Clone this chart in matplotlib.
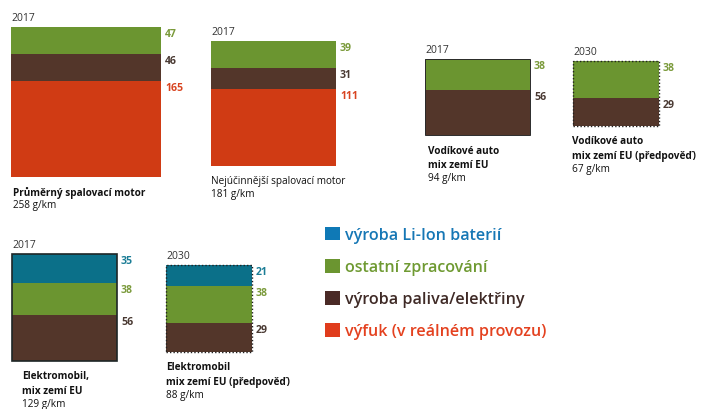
import matplotlib
matplotlib.use("Agg")
import matplotlib.pyplot as plt
from matplotlib.patches import Patch, Rectangle
import matplotlib.transforms as mtransforms

plt.rcParams['font.family'] = ['Open Sans', 'DejaVu Sans']

# ---- data ----
series = ['výroba Li-Ion baterií', 'ostatní zpracování',
          'výroba paliva/elektřiny', 'výfuk (v reálném provozu)']
years = ['2017', '2017', '2017', '2030', '2017', '2030']
battery = [0, 0, 0, 0, 35, 21]
other = [47, 39, 38, 38, 38, 38]
fuel = [46, 31, 56, 29, 56, 29]
exhaust = [165, 111, 0, 0, 0, 0]
totals = ['258 g/km', '181 g/km', '94 g/km', '67 g/km', '129 g/km', '88 g/km']
captions = [
    ['Průměrný spalovací motor'],
    ['Nejúčinnější spalovací motor'],
    ['Vodíkové auto', 'mix zemí EU'],
    ['Vodíkové auto', 'mix zemí EU (předpověď)'],
    ['Elektromobil,', 'mix zemí EU'],
    ['Elektromobil', 'mix zemí EU (předpověď)'],
]
caption_bold = [True, False, True, True, True, True]

# ---- style ----
c_batt = '#0b7089'
c_batt_leg = '#0f79b6'
c_other = '#6b9530'
c_fuel = '#53362a'
c_exh = '#d03b14'
label_colors = {'batt': '#1b7d96', 'other': '#7a9a3a', 'fuel': '#4a3a33', 'exh': '#d84420'}

W, H = 701, 410
fig = plt.figure(figsize=(W / 100, H / 100), dpi=100)

# block boxes in pixels: left, top, width, height
boxes = [(11, 28, 150, 150), (211, 42, 125, 125), (425, 60, 105, 76),
         (573, 62, 86, 65), (12, 255, 105, 107), (166, 266, 86, 87)]
borders = [None, None, 'thin', 'dotted', 'solid', 'dotted']
cap_dx = [2, 0, 3, -1, 10, 0]

def fx(px):
    return px / W

def fy(py):
    return 1 - py / H

for i in range(6):
    x0, y0, w, h = boxes[i]
    ax = fig.add_axes([fx(x0), fy(y0 + h), w / W, h / H])
    ax.set_axis_off()
    segs = [(exhaust[i], c_exh, 'exh'), (fuel[i], c_fuel, 'fuel'),
            (other[i], c_other, 'other'), (battery[i], c_batt, 'batt')]
    tot = sum(s[0] for s in segs)
    bottom = 0
    for val, col, key in segs:
        if val == 0:
            continue
        ax.bar(0.5, val, width=1.0, bottom=bottom, color=col, edgecolor='none')
        top = bottom + val
        tr = mtransforms.offset_copy(ax.transData, fig=fig, x=4, y=-1, units='dots')
        ax.text(1.0, top, str(val), transform=tr, ha='left', va='top',
                fontsize=7.6, fontweight='bold', color=label_colors[key], clip_on=False)
        bottom = top
    ax.set_xlim(0, 1)
    ax.set_ylim(0, tot)
    if borders[i] == 'solid':
        ax.add_patch(Rectangle((0, 0), 1, 1, transform=ax.transAxes, fill=False,
                               edgecolor='#1e2626', lw=1.2, clip_on=False))
    elif borders[i] == 'thin':
        ax.add_patch(Rectangle((0, 0), 1, 1, transform=ax.transAxes, fill=False,
                               edgecolor='#2a2a2a', lw=0.7, clip_on=False))
    elif borders[i] == 'dotted':
        ax.add_patch(Rectangle((0, 0), 1, 1, transform=ax.transAxes, fill=False,
                               edgecolor='#222222', lw=1.0, linestyle=(0, (1, 1.5)),
                               clip_on=False))
    # year label
    ax.text(0, 1, years[i], transform=mtransforms.offset_copy(ax.transAxes, fig=fig, x=0, y=4, units='dots'),
            ha='left', va='bottom', fontsize=7.5, color='#333333')
    # caption
    lines = captions[i]
    ybase = y0 + h + 15
    for j, ln in enumerate(lines):
        fig.text(fx(x0 + cap_dx[i]), fy(ybase + j * 14.5), ln, ha='left', va='center',
                 fontsize=7.2, fontweight='bold' if caption_bold[i] else 'normal', color='#111111')
    fig.text(fx(x0 + cap_dx[i]), fy(ybase + len(lines) * 14.5 - 1.5), totals[i], ha='left',
             va='center', fontsize=7.2, color='#111111')

# legend
handles = [Patch(facecolor=c_batt_leg), Patch(facecolor=c_other),
           Patch(facecolor='#4a2a26'), Patch(facecolor='#e03c1c')]
leg = fig.legend(handles, series, loc='upper left', bbox_to_anchor=(fx(310), fy(213)),
                 frameon=False, handlelength=0.95, handleheight=0.95, handletextpad=0.3,
                 labelspacing=0.97, prop={'size': 11.6, 'weight': 'semibold'},
                 labelcolor=['#1677b5', '#6f9a32', '#3f2a26', '#e4411f'])

fig.savefig('out.png', dpi=100)
